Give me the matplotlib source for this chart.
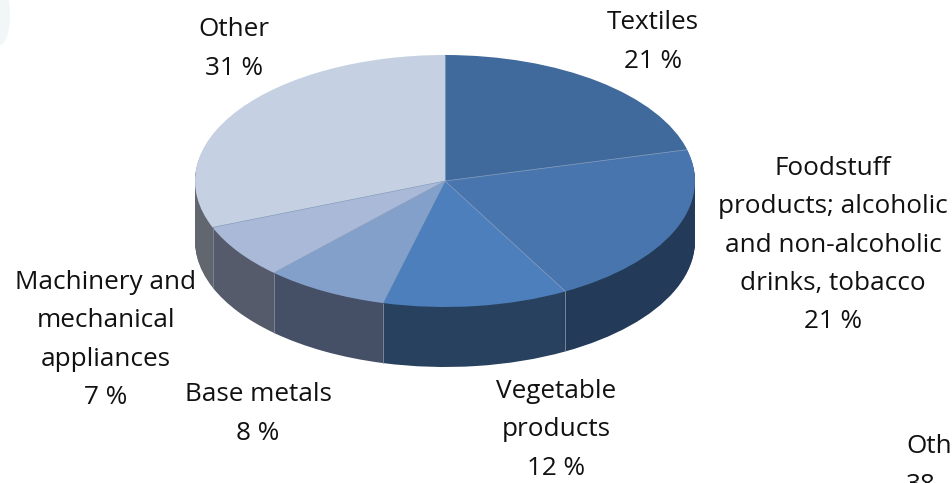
import numpy as np
import matplotlib
matplotlib.use('Agg')
import matplotlib.pyplot as plt
from matplotlib.patches import Ellipse

# shares, clockwise from 12 o'clock
categories = ['Textiles', 'Foodstuff\nproducts; alcoholic\nand non-alcoholic\ndrinks, tobacco',
              'Vegetable\nproducts', 'Base metals', 'Machinery and\nmechanical\nappliances', 'Other']
shares = [21, 21, 12, 8, 7, 31]
top_colors = ['#3f6a9b', '#4875ad', '#4c7fbb', '#82a0ca', '#a9b9d7', '#c5d0e2']
side_colors = ['#233a59', '#233a59', '#28415f', '#454f66', '#555b6b', '#62666f']

# second, cropped pie at the lower right edge of the picture
cut_label = 'Oth\n38'

W, H = 953, 483
CX, CY, RX, RY, DEPTH = 445, 181, 250, 126, 60

plt.rcParams['font.family'] = ['Open Sans', 'DejaVu Sans']

fig = plt.figure(figsize=(W / 100, H / 100), dpi=100)
ax = fig.add_axes([0, 0, 1, 1])

# side wall: the same pie stacked downwards
for d in range(DEPTH, 0, -1):
    ax.pie(shares, colors=side_colors, startangle=90, counterclock=False,
           center=(0, -d / RY), radius=1, wedgeprops={'linewidth': 0})

ax.pie(shares, colors=top_colors, startangle=90, counterclock=False, radius=1,
       wedgeprops={'linewidth': 0})

ax.set_aspect('auto')
ax.set_xlim(-CX / RX, (W - CX) / RX)
ax.set_ylim((CY - H) / RY, CY / RY)

angles = np.deg2rad(90 - 3.6 * np.cumsum(shares))
for a in angles:
    x, y = np.cos(a), np.sin(a)
    # thin line between slices on top
    ax.plot([0, x], [0, y], color='#8fa6c8', lw=0.5, solid_capstyle='butt')
    # seams where two side walls meet
    if np.sin(a) < 0:
        ax.plot([x, x], [y, y - DEPTH / RY], color='#7a8598', lw=0.7, solid_capstyle='butt')

# faint tint in the top left corner of the slide
fig.add_artist(Ellipse((0, 1 - 15 / H), 20 / W, 60 / H, transform=fig.transFigure,
                       facecolor='#f1f7f7', edgecolor='none'))


def label(text, x, y, ha='center'):
    fig.text(x / W, 1 - y / H, text, ha=ha, va='center', fontsize=18.8,
             color='#111111', linespacing=1.69)


label(f'{categories[0]}\n{shares[0]} %', 653, 42)
label(f'{categories[1]}\n{shares[1]} %', 833, 245)
label(f'{categories[2]}\n{shares[2]} %', 556, 430)
label(f'{categories[3]}\n{shares[3]} %', 258, 414)
label(f'{categories[4]}\n{shares[4]} %', 106, 340)
label(f'{categories[5]}\n{shares[5]} %', 234, 49)
label(cut_label, 906, 466, ha='left')

fig.savefig('out.png', dpi=100)
